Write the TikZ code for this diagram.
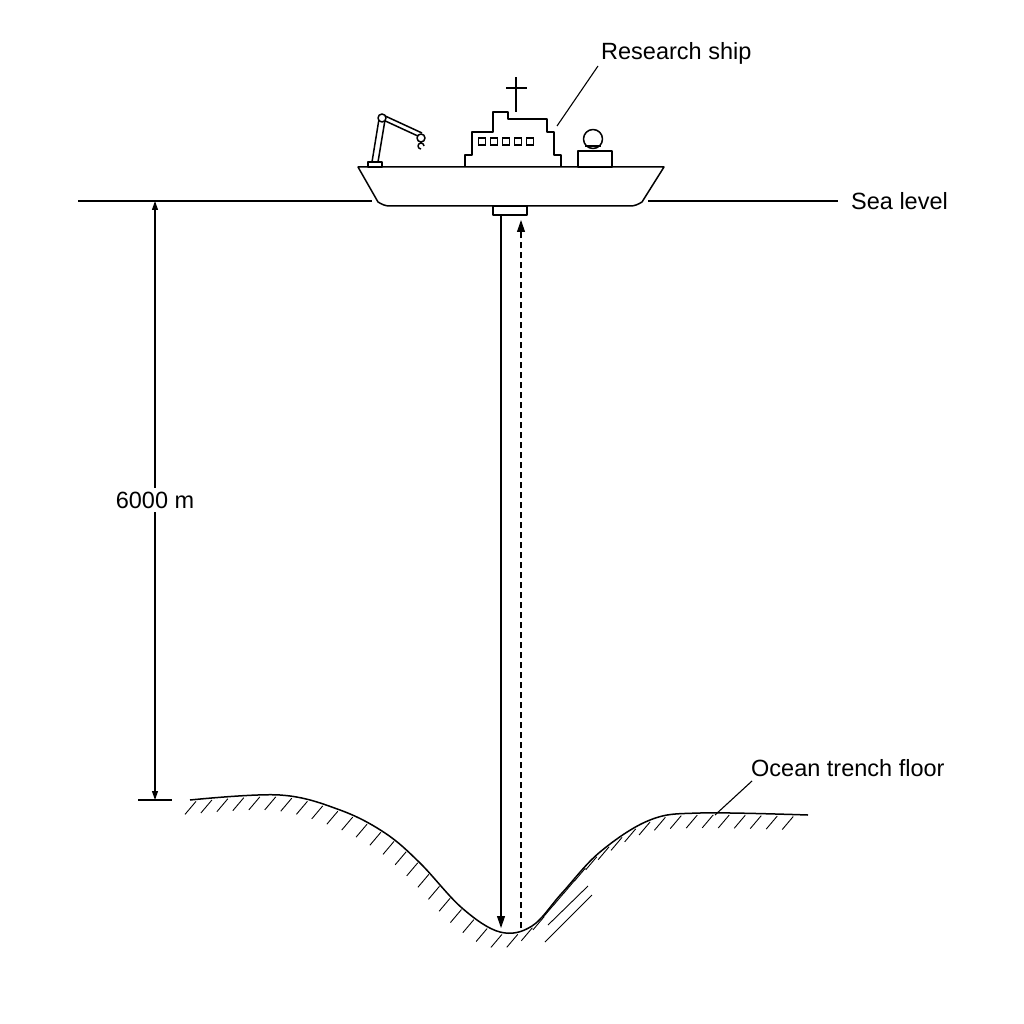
\documentclass[tikz,border=0pt]{standalone}
\usepackage{fontspec}
\setmainfont{Liberation Sans}
\usetikzlibrary{arrows.meta,decorations.markings}
\begin{document}
\begin{tikzpicture}[x=1pt,y=-1pt,
  line/.style={line width=1.5pt,line join=round},
  thin/.style={line width=1.1pt},
  lbl/.style={font=\fontsize{23.5}{28}\selectfont,inner sep=2pt},
  tip/.style={-{Triangle[length=12pt,width=8pt]}},
  hatch/.style={postaction={decorate,decoration={markings,
     mark=between positions 6pt and -4pt step 16pt with {\pgftransformresetnontranslations
       \draw[line width=0.9pt] (0,-2pt)--(-11pt,-15pt);}}}}]
\useasboundingbox (0,0) rectangle (1024,1024);
% sea level
\draw[thin] (78,201) -- (372,201);
\draw[thin] (648,201) -- (838,201);
\node[lbl,anchor=west] (sea) at (849,201) {Sea level};
% hull
\draw[line,fill=white] (358,167) -- (664,167) -- (642,202) to[out=-150,in=0] (630,206) -- (390,206) to[out=180,in=-30] (378,202) -- cycle;
% transducer
\draw[line] (493,206) rectangle (527,215);
% superstructure
\draw[line] (465,167) -- (465,155) -- (472,155) -- (472,132) -- (493,132) -- (493,112) -- (508,112) -- (508,119) -- (547,119) -- (547,132) -- (554,132) -- (554,155) -- (561,155) -- (561,167);
\draw[line] (516,112) -- (516,77);
\draw[line] (506,88) -- (527,88);
\foreach \x in {482,494,506,518,530}
  \draw[thin] (\x-3.5,138) rectangle (\x+3.5,145);
% crane
\draw[line] (368,167) rectangle (382,162);
\draw[line] (372,162) -- (379,119) -- (385,120) -- (378,162);
\draw[line] (381,119) -- (420,137);
\draw[line] (383,115) -- (422,133);
\draw[line,fill=white] (382,118) circle (4);
\draw[line,fill=white] (421,138) circle (4);
\draw[line] (424,146) arc (0:-270:3);
\draw[line] (421,142) -- (421,143);
% winch
\draw[line] (578,167) rectangle (612,151);
\draw[line,fill=white] (593,139) circle (9.5);
\draw[thin] (585,146) -- (601,146);
% research ship label
\coordinate (rsA) at (557,126);
\node[lbl,anchor=west] (rs) at (599,53) {Research ship};
\draw[thin] (rsA) -- (598,66);
% signals
\coordinate (tx) at (501,215);
\coordinate (bot) at (501,928);
\draw[thin,tip] (tx) -- (bot);
\coordinate (rx0) at (521,928);
\coordinate (rx1) at (521,220);
\draw[thin,dashed,dash pattern=on 6pt off 4pt,tip] (rx0) -- (rx1);
% dimension
\draw[thin] (148,201) -- (165,201);
\draw[thin] (138,800) -- (172,800);
\coordinate (d1) at (155,201);
\coordinate (d2) at (155,800);
\draw[thin,{Triangle[length=9pt,width=6pt]}-{Triangle[length=9pt,width=6pt]}] (d1) -- (d2);
\node[lbl,fill=white,inner sep=4pt] (dim) at (155,500) {6000 m};
% sea floor
\draw[line,hatch] plot[smooth,tension=0.6] coordinates {(190,800) (280,795) (340,810) (385,833) (420,863) (462,908) (500,932) (532,926) (562,893) (600,852) (650,820) (700,813) (808,815)};
\draw[line width=0.9pt] (545,942) -- (592,895);
\draw[line width=0.9pt] (548,925) -- (588,886);
% trench label
\node[lbl,anchor=west] (tf) at (749,768) {Ocean trench floor};
\draw[thin] (715,815) -- (752,781);
\end{tikzpicture}
\end{document}
